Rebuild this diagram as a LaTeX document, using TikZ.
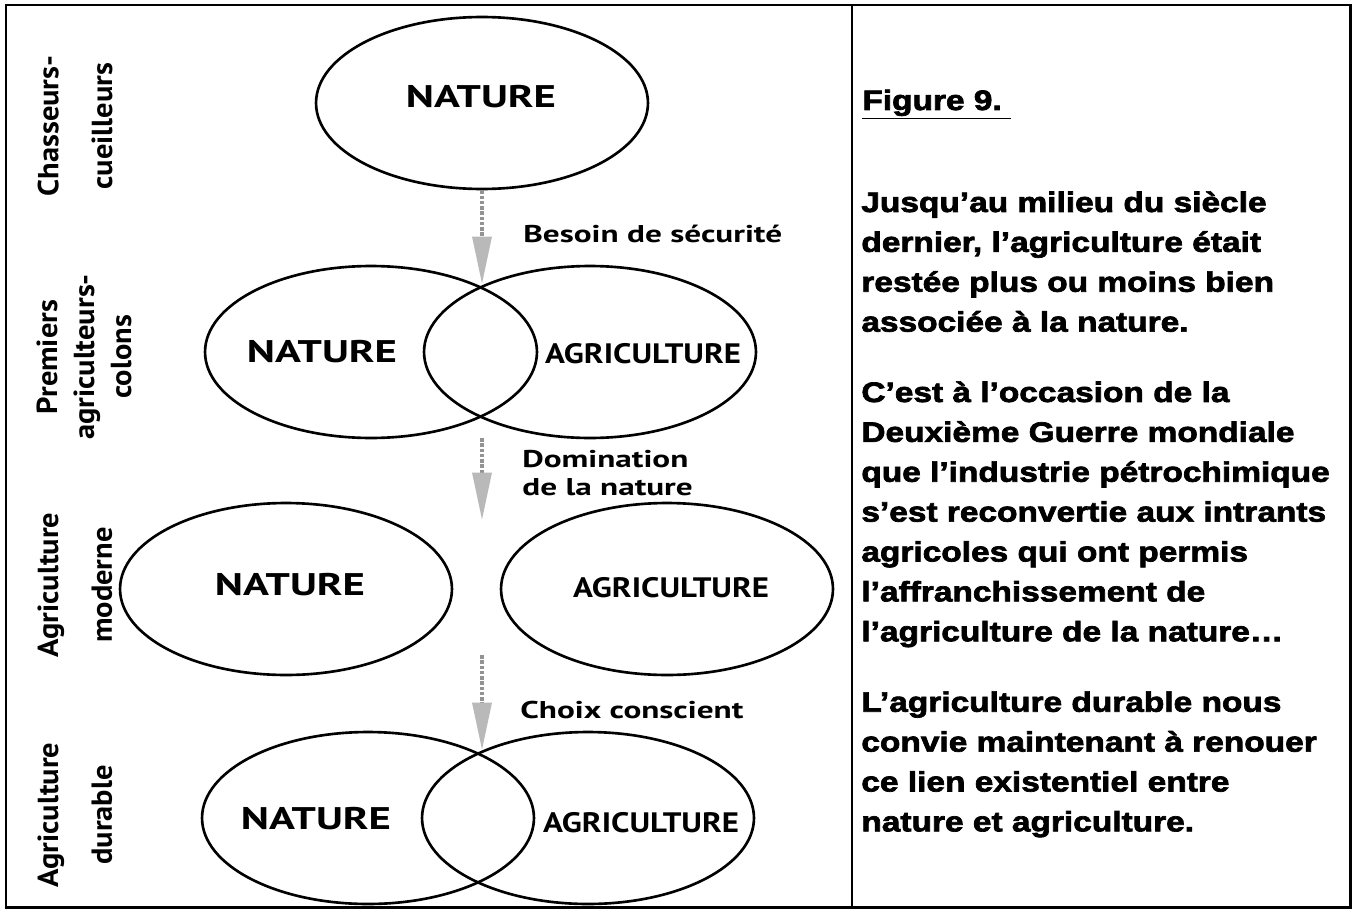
\documentclass[tikz,border=0pt]{standalone}
\usepackage{fontspec}
\setmainfont{Liberation Sans}
\newfontfamily\notefont[FakeStretch=1.19, BoldFeatures={FakeBold=2.5}]{Liberation Sans}
\newfontfamily\natfont[FakeStretch=1.37]{PT Sans}
\newfontfamily\agrfont[FakeStretch=1.17]{PT Sans}
\newfontfamily\capfont[FakeStretch=1.37]{PT Sans}
\newfontfamily\sidefont[FakeStretch=1.05]{PT Sans}
\usepackage{tikz}
\usetikzlibrary{arrows.meta,positioning,shapes.geometric}

\begin{document}
\begin{tikzpicture}[x=0.02cm, y=-0.02cm,
    oval/.style={draw, ellipse, line width=1.5pt, inner sep=0pt, minimum width=6.64cm, minimum height=3.44cm},
    wildtext/.style={font=\natfont\bfseries\fontsize{17.8}{20}\selectfont, inner sep=0pt},
    farmtext/.style={font=\agrfont\bfseries\fontsize{16}{18}\selectfont, inner sep=0pt},
    change/.style={font=\capfont\bfseries\fontsize{13.8}{15.6}\selectfont, inner sep=0pt, align=left},
    era/.style={rotate=90, align=center, inner sep=0pt, font=\sidefont\bfseries\fontsize{16.5}{30.6}\selectfont},
    flow/.style={line width=2pt, gray!85, densely dotted, -{Triangle[length=0.95cm, width=0.38cm, fill=gray!55, color=gray!55]}},
    note/.style={font=\notefont\bfseries\fontsize{16}{22.7}\selectfont, inner sep=0pt, align=left, anchor=north west}
]
    \useasboundingbox (0,0) rectangle (1354,909);
    % frame
    \draw[line width=1.7pt] (6,5) rectangle (1350,907);
    \draw[line width=1.2pt] (852,5) -- (852,907);

    % ellipses
    \node[oval] (hunt) at (482,103) {};
    \node[oval] (wild2) at (371,352) {};
    \node[oval] (farm2) at (590,352) {};
    \node[oval] (wild3) at (286,589) {};
    \node[oval] (farm3) at (667,589) {};
    \node[oval] (wild4) at (368,818) {};
    \node[oval] (farm4) at (588,818) {};

    \node[wildtext] (hunt-txt) at (481,97) {NATURE};
    \node[wildtext] (wild2-txt) at (322,352) {NATURE};
    \node[farmtext] (farm2-txt) at (643,354) {AGRICULTURE};
    \node[wildtext] (wild3-txt) at (290,585) {NATURE};
    \node[farmtext] (farm3-txt) at (671,588) {AGRICULTURE};
    \node[wildtext] (wild4-txt) at (316,819) {NATURE};
    \node[farmtext] (farm4-txt) at (641,823) {AGRICULTURE};

    % side labels
    \node[era] (era1) at (75,126) {Chasseurs-\\cueilleurs};
    \node[era, font=\sidefont\bfseries\fontsize{16.5}{21}\selectfont] (era2) at (84,357) {Premiers\\agriculteurs-\\colons};
    \node[era] (era3) at (75,585) {Agriculture\\moderne};
    \node[era] (era4) at (75,815) {Agriculture\\durable};

    % arrows
    \coordinate (meet2) at (482,284);
    \coordinate (part2) at (482,438);
    \coordinate (gap3) at (482,520);
    \coordinate (gap3b) at (482,655);
    \coordinate (meet4) at (482,750);
    \draw[flow] (hunt.south) -- (meet2);
    \draw[flow] (part2) -- (gap3);
    \draw[flow] (gap3b) -- (meet4);

    \node[change, anchor=base west] (need) at (523,242) {Besoin de sécurité};
    \node[change, anchor=north west] (rule) at (522,450) {Domination\\de la nature};
    \node[change, anchor=base west] (choice) at (520,718) {Choix conscient};

    % text panel
    \node[note, anchor=base west] (fig) at (862,110) {\underline{Figure 9.~}};
    \node[note] (para1) at (861,191) {Jusqu’au milieu du siècle\\dernier, l’agriculture était\\restée plus ou moins bien\\associée à la nature.};
    \node[note] (para2) at (861,381) {C’est à l’occasion de la\\Deuxième Guerre mondiale\\que l’industrie pétrochimique\\s’est reconvertie aux intrants\\agricoles qui ont permis\\l’affranchissement de\\l’agriculture de la nature…};
    \node[note] (para3) at (861,691) {L’agriculture durable nous\\convie maintenant à renouer\\ce lien existentiel entre\\nature et agriculture.};
\end{tikzpicture}
\end{document}
